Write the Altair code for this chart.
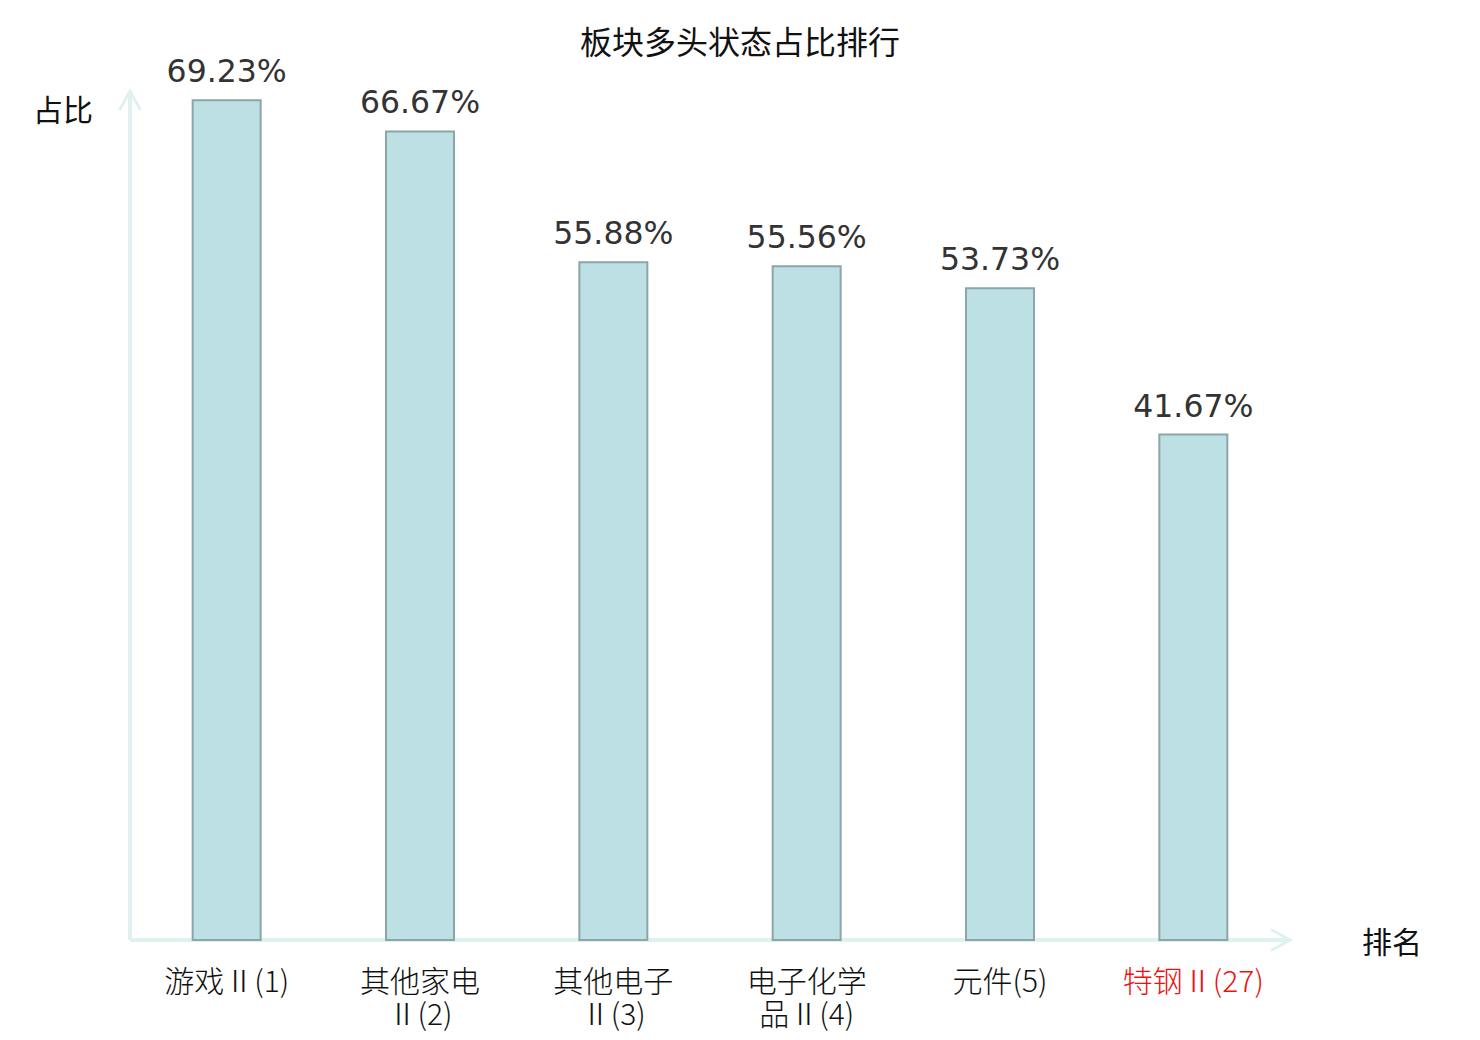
import altair as alt
import pandas as pd

# ---- data ----
sectors = ["游戏Ⅱ(1)", "其他家电Ⅱ(2)", "其他电子Ⅱ(3)", "电子化学品Ⅱ(4)", "元件(5)", "特钢Ⅱ(27)"]
axis_labels = ["游戏Ⅱ(1)", "其他家电\nⅡ(2)", "其他电子\nⅡ(3)", "电子化学\n品Ⅱ(4)", "元件(5)", "特钢Ⅱ(27)"]
shares = [69.23, 66.67, 55.88, 55.56, 53.73, 41.67]
value_text = ["69.23%", "66.67%", "55.88%", "55.56%", "53.73%", "41.67%"]
highlight = "特钢Ⅱ(27)"
title_text = "板块多头状态占比排行"
y_name = "占比"
x_name = "排名"

df = pd.DataFrame({"sector": sectors, "label": axis_labels, "share": shares, "vtext": value_text})

W, H = 1160, 849
CJK = "Noto Sans CJK SC"
AXIS_COLOR = "#dff2ef"

x_enc = alt.X("sector:N", sort=sectors, axis=None,
              scale=alt.Scale(paddingInner=0, paddingOuter=0))
y_scale = alt.Scale(domain=[0, 70], nice=False, zero=True)

base = alt.Chart(df)

bars = base.mark_bar(size=68, fill="#bce0e3", stroke="#8ba6a8", strokeWidth=2).encode(
    x=x_enc,
    y=alt.Y("share:Q", scale=y_scale, axis=None),
)

vlabels = base.mark_text(font="DejaVu Sans", fontSize=31.5, fill="#333333",
                         baseline="alphabetic", dy=-18).encode(
    x=x_enc,
    y=alt.Y("share:Q", scale=y_scale, axis=None),
    text="vtext:N",
)

xlabels = base.mark_text(font=CJK, fontSize=30, fontWeight=300, baseline="top", lineBreak="\n",
                         lineHeight=33).encode(
    x=x_enc,
    y=alt.value(H + 28),
    text="label:N",
    color=alt.condition(alt.datum.sector == highlight, alt.value("#ee1111"), alt.value("#111111")),
)

# axis lines
yaxis_line = base.mark_rule(color=AXIS_COLOR, strokeWidth=3).encode(
    x=alt.value(0), y=alt.value(0), y2=alt.value(H))
xaxis_line = base.mark_rule(color=AXIS_COLOR, strokeWidth=3).encode(
    x=alt.value(0), x2=alt.value(W), y=alt.value(H))

y_arrow = alt.Chart(pd.DataFrame({"a": [0]})).mark_point(
    shape="M-0.55,1L0,0L0.55,1", size=1444, filled=False, stroke=AXIS_COLOR,
    strokeWidth=3, opacity=1).encode(x=alt.value(0), y=alt.value(0))
x_arrow = alt.Chart(pd.DataFrame({"a": [0]})).mark_point(
    shape="M-1,-0.55L0,0L-1,0.55", size=1444, filled=False, stroke=AXIS_COLOR,
    strokeWidth=3, opacity=1).encode(x=alt.value(W), y=alt.value(H))

one = pd.DataFrame({"t": [title_text], "yn": [y_name], "xn": [x_name]})
title = alt.Chart(one).mark_text(font=CJK, fontSize=32, fill="#111111", baseline="middle").encode(
    x=alt.value(610), y=alt.value(-47), text="t:N")
ytitle = alt.Chart(one).mark_text(font=CJK, fontSize=30, fill="#111111", baseline="middle").encode(
    x=alt.value(-67), y=alt.value(21), text="yn:N")
xtitle = alt.Chart(one).mark_text(font=CJK, fontSize=30, fill="#111111", baseline="middle").encode(
    x=alt.value(1262), y=alt.value(853), text="xn:N")

chart = alt.layer(
    yaxis_line, xaxis_line, y_arrow, x_arrow, bars, vlabels, xlabels, title, ytitle, xtitle
).properties(
    width=W, height=H,
    autosize=alt.AutoSizeParams(type="none"),
    padding={"left": 122, "top": 83, "right": 182, "bottom": 95},
    view=alt.ViewBackground(strokeOpacity=0, strokeWidth=0, stroke="white"),
).configure_view(stroke="white", strokeOpacity=0, strokeWidth=0).configure(background="white")

chart.save("out.html", embed_options={"renderer": "svg", "actions": False})
